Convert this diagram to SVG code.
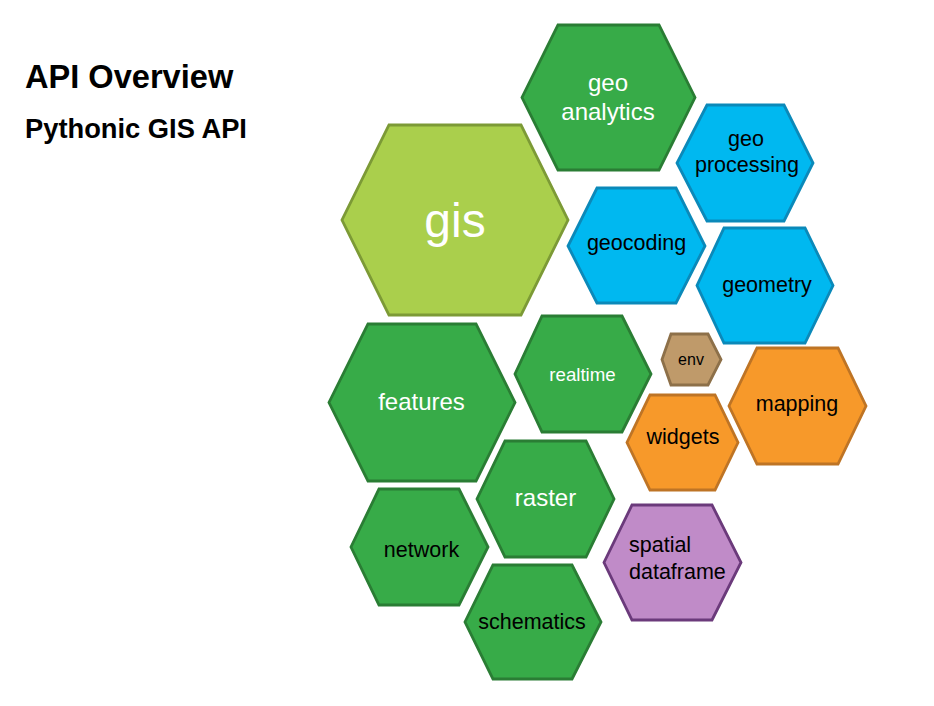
<svg xmlns="http://www.w3.org/2000/svg" width="934" height="706" viewBox="0 0 934 706">
<style>
text{font-family:"Liberation Sans",Arial,sans-serif}
.t{font-weight:bold;fill:#000}
.h{stroke-width:2.8;stroke-linejoin:miter}
.lime{fill:#AACF4C;stroke:#7C9A36}
.grn{fill:#37AB48;stroke:#2A7D34}
.blu{fill:#00B8F0;stroke:#0B89B9}
.org{fill:#F7992A;stroke:#BE7425}
.brn{fill:#BF9A6A;stroke:#8D7049}
.pur{fill:#C08BC8;stroke:#6B3A7B}
.w{fill:#fff;text-anchor:middle}
.b{fill:#000;text-anchor:middle}
.l{fill:#000}
</style>
<rect width="934" height="706" fill="#fff"/>
<text class="t" x="25" y="88" font-size="32.6">API Overview</text>
<text class="t" x="25" y="138" font-size="27.3">Pythonic GIS API</text>
<g id="connectors"></g>
<g id="geoanalytics">
<polygon class="h grn" points="558,25 659,25 695,97.5 659,170 558,170 522,97.5"/>
<text class="w" x="608" y="91" font-size="24">geo</text>
<text class="w" x="608" y="120" font-size="24">analytics</text>
</g>
<g id="gis">
<polygon class="h lime" points="389,125 521,125 568,220 521,315 389,315 342,220"/>
<text class="w" x="455" y="237" font-size="48">gis</text>
</g>
<g id="geoprocessing">
<polygon class="h blu" points="707,105 784,105 813,163 784,221 707,221 677,163"/>
<text class="b" x="746" y="146" font-size="21.5">geo</text>
<text class="b" x="747" y="172" font-size="21.5">processing</text>
</g>
<g id="geocoding">
<polygon class="h blu" points="597,188 676,188 705,246 676,303 597,303 568,246"/>
<text class="b" x="636.5" y="250" font-size="21.5">geocoding</text>
</g>
<g id="geometry">
<polygon class="h blu" points="724,228 805,228 833,285.5 805,343 724,343 697,285.5"/>
<text class="b" x="767" y="292" font-size="21.5">geometry</text>
</g>
<g id="features">
<polygon class="h grn" points="368,324 476,324 515,402.5 476,481 368,481 329,402.5"/>
<text class="w" x="421.5" y="410" font-size="24">features</text>
</g>
<g id="realtime">
<polygon class="h grn" points="542,316 622,316 651,374 622,432 542,432 515,374"/>
<text class="w" x="582.5" y="381" font-size="18.7">realtime</text>
</g>
<g id="env">
<polygon class="h brn" points="671,334 708,334 721,359.5 708,385 671,385 662,359.5"/>
<text class="b" x="691" y="364.5" font-size="16">env</text>
</g>
<g id="mapping">
<polygon class="h org" points="757,348 838,348 866,406 838,464 757,464 729,406"/>
<text class="b" x="797" y="411" font-size="21.5">mapping</text>
</g>
<g id="widgets">
<polygon class="h org" points="650,395 715,395 738,442.5 715,490 650,490 627,442.5"/>
<text class="b" x="683" y="443.5" font-size="21.5">widgets</text>
</g>
<g id="raster">
<polygon class="h grn" points="505,441 586,441 614,499 586,557 505,557 477,499"/>
<text class="w" x="545.5" y="506" font-size="24">raster</text>
</g>
<g id="network">
<polygon class="h grn" points="379,489 459,489 488,547 459,605 379,605 351,547"/>
<text class="b" x="421.5" y="557" font-size="21.5">network</text>
</g>
<g id="schematics">
<polygon class="h grn" points="493,565 572,565 601,622 572,679 493,679 465,622"/>
<text class="b" x="532" y="628.5" font-size="21.5">schematics</text>
</g>
<g id="spatialdataframe">
<polygon class="h pur" points="632,505 712,505 741,562.5 712,620 632,620 604,562.5"/>
<text class="l" x="629" y="552" font-size="21.5">spatial</text>
<text class="l" x="629" y="578.5" font-size="21.5">dataframe</text>
</g>
</svg>
